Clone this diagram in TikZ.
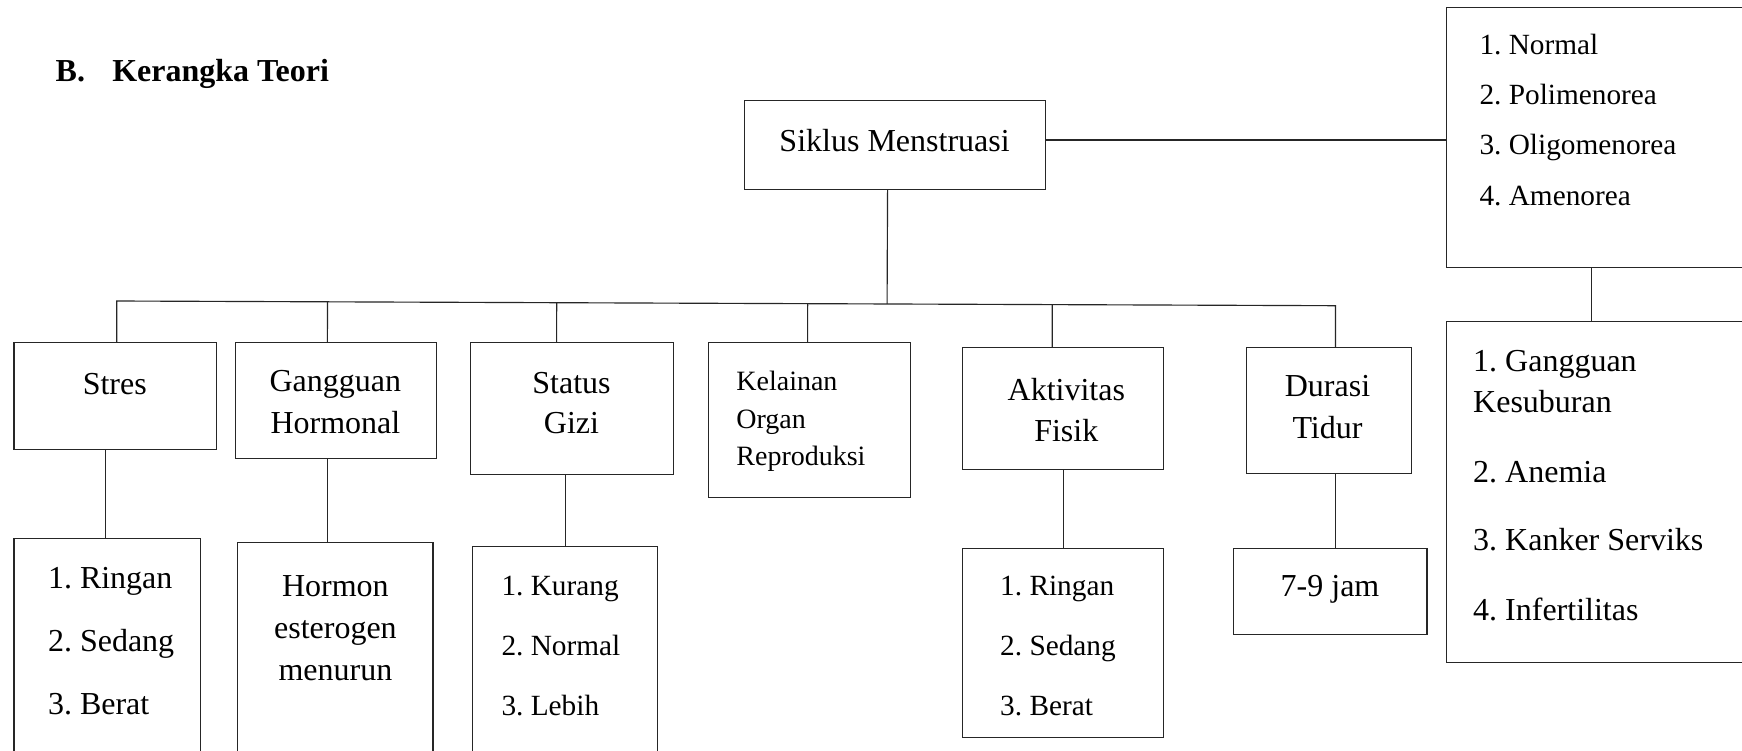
\documentclass[tikz,border=0pt]{standalone}
\usepackage{fontspec}
\setmainfont{Liberation Serif}
\usetikzlibrary{calc}
\tikzset{
  box/.style={draw=black!85, line width=1.15pt, rectangle, inner sep=0pt, anchor=north west},
  conn/.style={draw=black!85, line width=1.15pt},
  txt/.style={inner sep=0pt, text=black},
}
\newcommand\tA{\fontsize{32}{41.7}\selectfont}
\frenchspacing
\begin{document}
\frenchspacing
\begin{tikzpicture}[x=1pt,y=-1pt]
\clip (0,0) rectangle (1742,750);
\fill[white] (0,0) rectangle (1742,750);

% title
\node[txt, anchor=base west, font=\fontsize{32}{38}\selectfont\bfseries] (title) at (55.5,81.7) {\makebox[56.6pt][l]{B.}Kerangka Teori};

% boxes
\node[box, minimum width=300.8pt, minimum height=88.7pt] (siklus) at (743.9,100) {};
\node[box, minimum width=320pt, minimum height=260.6pt] (outcome) at (1445.8,6.7) {};
\node[box, minimum width=320pt, minimum height=341pt] (comp) at (1445.8,320.7) {};
\node[box, minimum width=202.8pt, minimum height=106.7pt] (stres) at (13.4,342) {};
\node[box, minimum width=186.7pt, minimum height=230pt] (stresL) at (13.4,538) {};
\node[box, minimum width=201.7pt, minimum height=116pt] (horm) at (234.6,342) {};
\node[box, minimum width=195.1pt, minimum height=230pt] (hormL) at (237.3,542.3) {};
\node[box, minimum width=202.4pt, minimum height=132pt] (gizi) at (470.3,342) {};
\node[box, minimum width=184.4pt, minimum height=230pt] (giziL) at (472.2,546) {};
\node[box, minimum width=201.7pt, minimum height=154.7pt] (kel) at (708.3,342) {};
\node[box, minimum width=201.7pt, minimum height=121.7pt] (akt) at (961.6,347.3) {};
\node[box, minimum width=201.7pt, minimum height=188.4pt] (aktL) at (961.6,548.3) {};
\node[box, minimum width=165.6pt, minimum height=125.4pt] (dur) at (1245.6,347.3) {};
\node[box, minimum width=193.9pt, minimum height=85.7pt] (durL) at (1232.5,548.3) {};

% texts
\node[txt, anchor=base] (siklusT) at (894.6,151.7) {\tA Siklus Menstruasi};
\node[txt, anchor=base west] (outcomeT) at (1479.3,54.5) {\fontsize{29.3}{50.2}\selectfont\begin{tabular}[t]{@{}l@{}}1. Normal\\2. Polimenorea\\3. Oligomenorea\\4. Amenorea\end{tabular}};
\node[txt, anchor=base west] (compT) at (1473,371) {\tA\begin{tabular}[t]{@{}l@{}}1. Gangguan\\Kesuburan\\[28pt]2. Anemia\\[26.6pt]3. Kanker Serviks\\[28.3pt]4. Infertilitas\end{tabular}};
\node[txt, anchor=base] (stresT) at (114.8,394) {\tA Stres};
\node[txt, anchor=base west] (stresLT) at (47.8,588.3) {\fontsize{32}{63.3}\selectfont\begin{tabular}[t]{@{}l@{}}1. Ringan\\2. Sedang\\3. Berat\end{tabular}};
\node[txt, anchor=base] (hormT) at (335.4,391.7) {\tA\begin{tabular}[t]{@{}c@{}}Gangguan\\Hormonal\end{tabular}};
\node[txt, anchor=base] (hormLT) at (335.4,596.7) {\tA\begin{tabular}[t]{@{}c@{}}Hormon\\esterogen\\menurun\end{tabular}};
\node[txt, anchor=base] (giziT) at (571.5,393.3) {\fontsize{32}{40}\selectfont\begin{tabular}[t]{@{}c@{}}Status\\Gizi\end{tabular}};
\node[txt, anchor=base west] (giziLT) at (501.3,595) {\fontsize{29.3}{60}\selectfont\begin{tabular}[t]{@{}l@{}}1. Kurang\\2. Normal\\3. Lebih\end{tabular}};
\node[txt, anchor=base west] (kelT) at (736.2,390.7) {\fontsize{28}{37.3}\selectfont\begin{tabular}[t]{@{}l@{}}Kelainan\\Organ\\Reproduksi\end{tabular}};
\node[txt, anchor=base] (aktT) at (1066.3,400) {\tA\begin{tabular}[t]{@{}c@{}}Aktivitas\\Fisik\end{tabular}};
\node[txt, anchor=base west] (aktLT) at (1000,595) {\fontsize{29.3}{60}\selectfont\begin{tabular}[t]{@{}l@{}}1. Ringan\\2. Sedang\\3. Berat\end{tabular}};
\node[txt, anchor=base] (durT) at (1327.5,396.7) {\tA\begin{tabular}[t]{@{}c@{}}Durasi\\Tidur\end{tabular}};
\node[txt, anchor=base] (durLT) at (1330,596.7) {\tA 7-9 jam};

% connectors
\coordinate (busL) at (116.7,301);
\coordinate (busR) at (1335.5,305.7);
\draw[conn] (busL |- stres.north) -- (busL) -- (busR) -- (busR |- dur.north);
\draw[conn] ([xshift=-7.3pt]siklus.south) coordinate (s0) -- ($(busL)!(s0)!(busR)$);
\draw[conn] ([xshift=-8.65pt]horm.north) coordinate (h0) -- ($(busL)!(h0)!(busR)$);
\draw[conn] ([xshift=-15.5pt]gizi.north) coordinate (g0) -- ($(busL)!(g0)!(busR)$);
\draw[conn] ([xshift=-2.15pt]kel.north) coordinate (k0) -- ($(busL)!(k0)!(busR)$);
\draw[conn] ([xshift=-10.85pt]akt.north) coordinate (a0) -- ($(busL)!(a0)!(busR)$);

\draw[conn] ([yshift=5pt]siklus.east) coordinate (e0) -- (e0 -| outcome.west);
\draw[conn] ([xshift=145.5pt]outcome.south west) coordinate (o0) -- (o0 |- comp.north);

\draw[conn] ([xshift=-9.6pt]stres.south) coordinate (s1) -- (s1 |- stresL.north);
\draw[conn] ([xshift=-8.65pt]horm.south) coordinate (h1) -- (h1 |- hormL.north);
\draw[conn] ([xshift=-7pt]gizi.south) coordinate (g1) -- (g1 |- giziL.north);
\draw[conn] ([xshift=0.55pt]akt.south) coordinate (a1) -- (a1 |- aktL.north);
\draw[conn] ([xshift=6.1pt]dur.south) coordinate (d1) -- (d1 |- durL.north);
\end{tikzpicture}
\end{document}
